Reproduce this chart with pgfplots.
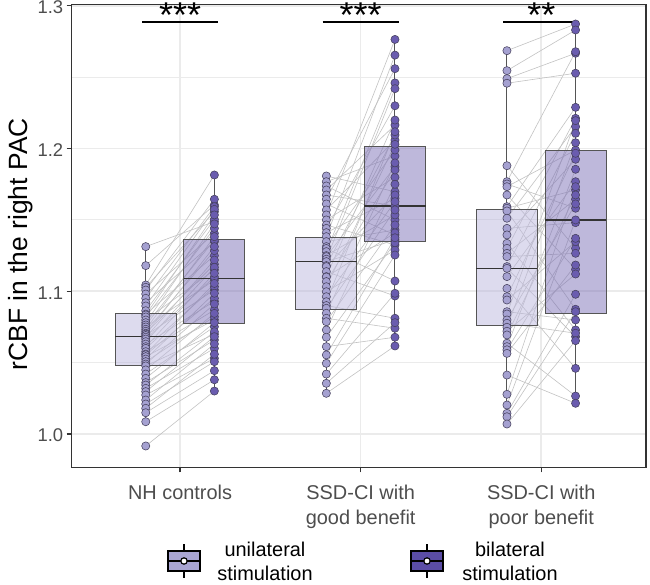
\documentclass[border=0pt]{standalone}
\usepackage{pgfplots}
\pgfplotsset{compat=1.18}
\usepackage{pgfplotstable}
\usepackage{fontspec}
\setmainfont{Liberation Sans}

\definecolor{unipt}{HTML}{A5A1D1}
\definecolor{bipt}{HTML}{6A5CAF}
\definecolor{unibox}{HTML}{BBB7DD}
\definecolor{bibox}{HTML}{7D71B7}
\definecolor{leguni}{HTML}{A9A5D3}
\definecolor{legbi}{HTML}{5B4DA6}
\definecolor{gridc}{HTML}{EBEBEB}
\definecolor{frame}{HTML}{333333}
\definecolor{boxedge}{HTML}{555555}
\definecolor{ptedge}{HTML}{45405C}
\definecolor{ticktext}{HTML}{4D4D4D}
\definecolor{pairline}{HTML}{C2C2C2}

% rCBF per subject: unilateral (uni) and bilateral (bi) stimulation
\pgfplotstableread{
uni bi
1.1313 1.1488
1.1180 1.1605
1.1044 1.1815
1.1028 1.1558
1.1009 1.1645
1.0981 1.1406
1.0951 1.1593
1.0920 1.1348
1.0897 1.1574
1.0864 1.1504
1.0840 1.1250
1.0834 1.1535
1.0820 1.1441
1.0799 1.1150
1.0780 1.1472
1.0764 1.1360
1.0750 1.1079
1.0734 1.1383
1.0720 1.1285
1.0706 1.1190
1.0700 1.1313
1.0690 1.1010
1.0678 1.1219
1.0665 1.1100
1.0647 1.1168
1.0630 1.0930
1.0612 1.1126
1.0600 1.1032
1.0577 1.0869
1.0560 1.1055
1.0555 1.0951
1.0542 1.0800
1.0525 1.0986
1.0507 1.0822
1.0490 1.0911
1.0477 1.0700
1.0449 1.0845
1.0420 1.0752
1.0390 1.0780
1.0360 1.0659
1.0343 1.0717
1.0320 1.0600
1.0297 1.0682
1.0273 1.0530
1.0238 1.0631
1.0210 1.0507
1.0180 1.0559
1.0149 1.0444
1.0086 1.0380
0.9916 1.0301
}\nhdata

\pgfplotstableread{
uni bi
1.1808 1.1698
1.1768 1.1948
1.1738 1.1500
1.1710 1.2165
1.1675 1.1598
1.1645 1.2560
1.1612 1.1395
1.1570 1.2060
1.1535 1.2765
1.1500 1.1799
1.1465 1.1324
1.1441 1.2300
1.1411 1.1652
1.1383 1.2655
1.1348 1.1430
1.1313 1.1990
1.1300 1.1072
1.1278 1.2460
1.1250 1.1535
1.1243 1.1873
1.1225 1.2420
1.1208 1.1360
1.1180 1.2095
1.1173 1.1675
1.1138 1.0967
1.1103 1.2200
1.1100 1.1410
1.1068 1.1850
1.1032 1.2030
1.0997 1.1289
1.0962 1.1628
1.0927 1.2118
1.0900 1.0811
1.0881 1.1570
1.0846 1.1900
1.0811 1.0741
1.0787 1.1465
1.0729 1.1750
1.0678 1.1340
1.0612 1.0678
1.0554 1.1375
1.0495 1.1254
1.0420 1.0986
1.0355 1.0780
1.0285 1.0617
}\gooddata

\pgfplotstableread{
uni bi
1.2686 1.2873
1.2546 1.2831
1.2490 1.2668
1.2458 1.2528
1.1880 1.1301
1.1768 1.2679
1.1752 1.1582
1.1733 1.1990
1.1675 1.1154
1.1593 1.2289
1.1582 1.1710
1.1563 1.0874
1.1512 1.2154
1.1441 1.1481
1.1395 1.1925
1.1336 1.0729
1.1301 1.2212
1.1266 1.1645
1.1243 1.1266
1.1173 1.2107
1.1161 1.0682
1.1103 1.1768
1.1020 1.0460
1.0962 1.1967
1.0939 1.1348
1.0857 1.0799
1.0841 1.2196
1.0799 1.1612
1.0776 1.0706
1.0748 1.2041
1.0720 1.1121
1.0694 1.1675
1.0636 1.0266
1.0612 1.1855
1.0590 1.1371
1.0565 1.1184
1.0413 1.0215
1.0278 1.1733
1.0203 1.1500
1.0145 1.0979
1.0121 1.0857
1.0070 1.0654
}\poordata

\pgfplotsset{
  pairs/.style={quiver={u=0.38, v=\thisrow{bi}-\thisrow{uni}}, draw=pairline, line width=0.6bp},
  unipts/.style={only marks, mark=*, mark size=4.1bp,
    mark options={fill=unipt, draw=ptedge, line width=0.55bp}},
  bipts/.style={only marks, mark=*, mark size=4.1bp,
    mark options={fill=bipt, draw=ptedge, line width=0.55bp}},
}
\tikzset{
  sigbar/.style={draw=black, line width=1.4bp},
  sigstar/.style={anchor=base, font=\fontsize{36}{36}\selectfont, inner sep=0pt},
}

% box plot from precomputed statistics:
% #1 position, #2 lower whisker, #3 Q1, #4 median, #5 Q3, #6 upper whisker, #7 fill
\newcommand{\boxstat}[7]{%
  \pgfmathsetmacro\bxl{#1-0.169}%
  \pgfmathsetmacro\bxr{#1+0.169}%
  \addplot[draw=boxedge, line width=1bp] coordinates {(#1,#2) (#1,#3)};
  \addplot[draw=boxedge, line width=1bp] coordinates {(#1,#5) (#1,#6)};
  \addplot[draw=boxedge, line width=1bp, fill=#7, fill opacity=0.5]
    coordinates {(\bxl,#3) (\bxr,#3) (\bxr,#5) (\bxl,#5)} -- cycle;
  \addplot[draw=frame, line width=1.5bp] coordinates {(\bxl,#4) (\bxr,#4)};
}

\newcommand{\legglyph}[2]{%
  \draw[black, line width=1.8bp] (#1,7) -- (#1,14) (#1,34) -- (#1,41);
  \draw[black, line width=1.8bp, fill=#2] (#1-16,14) rectangle (#1+16,34);
  \draw[black, line width=1.8bp] (#1-16,24) -- (#1+16,24);
  \draw[black, line width=1.2bp, fill=white] (#1,24) circle (3.2);
}

\begin{document}
\begin{tikzpicture}[x=1bp, y=1bp]
\path[use as bounding box] (0,0) rectangle (650,585);
\begin{axis}[
  at={(71.7bp,117.7bp)}, anchor=south west,
  scale only axis, width=574.3bp, height=462.8bp,
  xmin=0.4, xmax=3.58, ymin=0.97666, ymax=1.30098,
  xtick={1,2,3},
  xticklabels={NH controls, {SSD-CI with\\good benefit}, {SSD-CI with\\poor benefit}},
  xticklabel style={align=center, font=\fontsize{20}{25}\selectfont, text=ticktext,
    yshift=-9bp},
  ytick={1.0,1.1,1.2,1.3}, minor ytick={1.05,1.15,1.25},
  yticklabel style={font=\fontsize{18.5}{22}\selectfont, text=ticktext, yshift=-1.6bp},
  /pgf/number format/.cd, fixed, fixed zerofill, precision=1, assume math mode=true,
  /pgfplots/.cd,
  tick pos=left, tick align=outside,
  major tick length=5bp, minor tick length=0pt,
  tick style={draw=frame, line width=1.2bp},
  grid=both,
  major grid style={draw=gridc, line width=1.6bp},
  minor grid style={draw=gridc, line width=0.9bp},
  axis line style={draw=frame, line width=1.3bp},
  ylabel={rCBF in the right PAC},
  ylabel style={at={(axis description cs:-0.088,0.482)}, anchor=center,
    font=\fontsize{26.5}{30}\selectfont},
  clip=false,
]
% paired lines, one per subject
\addplot[pairs] table[x expr=0.81, y=uni] {\nhdata};
\addplot[pairs] table[x expr=1.81, y=uni] {\gooddata};
\addplot[pairs] table[x expr=2.81, y=uni] {\poordata};
% individual values
\addplot[unipts] table[x expr=0.81, y=uni] {\nhdata};
\addplot[bipts]  table[x expr=1.19, y=bi]  {\nhdata};
\addplot[unipts] table[x expr=1.81, y=uni] {\gooddata};
\addplot[bipts]  table[x expr=2.19, y=bi]  {\gooddata};
\addplot[unipts] table[x expr=2.81, y=uni] {\poordata};
\addplot[bipts]  table[x expr=3.19, y=bi]  {\poordata};
% box plots
\boxstat{0.81}{1.0086}{1.0479}{1.0682}{1.0843}{1.1313}{unibox}
\boxstat{1.19}{1.0301}{1.0776}{1.1088}{1.1360}{1.1815}{bibox}
\boxstat{1.81}{1.0285}{1.0869}{1.1210}{1.1378}{1.1808}{unibox}
\boxstat{2.19}{1.0617}{1.1350}{1.1598}{1.2013}{1.2765}{bibox}
\boxstat{2.81}{1.0070}{1.0757}{1.1158}{1.1570}{1.2686}{unibox}
\boxstat{3.19}{1.0215}{1.0846}{1.1500}{1.1988}{1.2873}{bibox}
% significance brackets
\draw[sigbar] (axis cs:0.79,1.2887) -- (axis cs:1.21,1.2887);
\draw[sigbar] (axis cs:1.79,1.2887) -- (axis cs:2.21,1.2887);
\draw[sigbar] (axis cs:2.79,1.2887) -- (axis cs:3.21,1.2887);
\node[sigstar] at (axis cs:1,1.2845) {***};
\node[sigstar] at (axis cs:2,1.2845) {***};
\node[sigstar] at (axis cs:3,1.2845) {**};
\end{axis}
% legend
\legglyph{184}{leguni}
\legglyph{427}{legbi}
\node[align=center, font=\fontsize{20}{24}\selectfont, text=black] at (265,23.5) {unilateral\\stimulation};
\node[align=center, font=\fontsize{20}{24}\selectfont, text=black] at (510,23.5) {bilateral\\stimulation};
\end{tikzpicture}
\end{document}
